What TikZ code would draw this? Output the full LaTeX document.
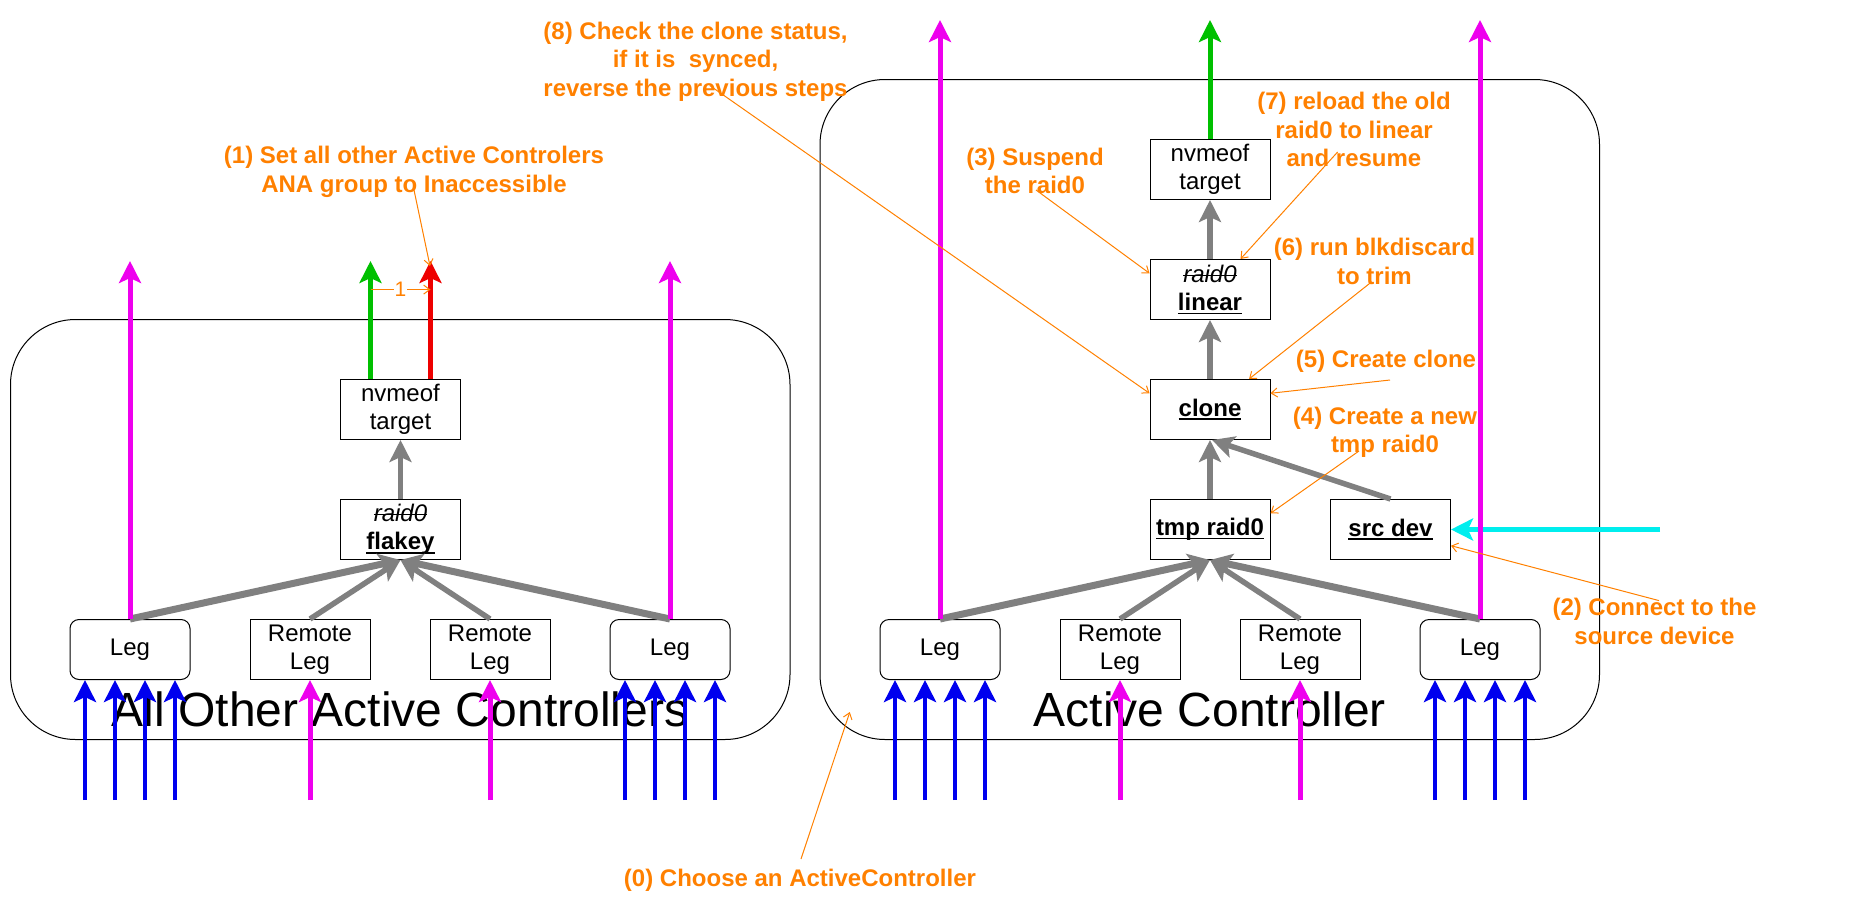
\documentclass[tikz,border=0pt]{standalone}
\usepackage{fontspec}
\setmainfont{Liberation Sans}
\usetikzlibrary{arrows.meta}
\newsavebox{\mylinebox}
\newcommand{\myul}[1]{\sbox{\mylinebox}{#1}\rlap{\rule[-3.6pt]{\wd\mylinebox}{1.6pt}}\usebox{\mylinebox}}
\newcommand{\myso}[1]{\sbox{\mylinebox}{#1}\rlap{\rule[6.2pt]{\wd\mylinebox}{1.4pt}}\usebox{\mylinebox}}
\definecolor{noteor}{HTML}{FF8000}
\definecolor{mgc}{HTML}{EE00EE}
\definecolor{blc}{HTML}{0000EE}
\definecolor{grc}{HTML}{00C000}
\definecolor{rdc}{HTML}{EE0000}
\definecolor{gyc}{HTML}{808080}
\definecolor{cyc}{HTML}{00EEEE}
\begin{document}
\begin{tikzpicture}[x=1pt,y=-1pt,
  box/.style={draw=black, fill=white, line width=1pt, minimum width=120pt, minimum height=60pt, inner sep=0pt, align=center, font=\fontsize{24}{28.5}\selectfont},
  legbox/.style={box, rounded corners=9pt},
  ctr/.style={draw=black, line width=1pt, rounded corners=65pt},
  big/.style={font=\fontsize{48}{56}\selectfont, anchor=base, inner sep=0pt},
  note/.style={text=noteor, font=\bfseries\fontsize{24}{28.5}\selectfont, align=center, inner sep=0pt},
  lead/.style={draw=noteor, line width=1pt, -{Straight Barb[length=6pt,width=9pt]}},
  tipA/.style={-{Stealth[length=22pt,width=22pt,inset=5pt]}},
  gr/.style={draw=gyc, line width=5.5pt, tipA, color=gyc},
  grT/.style={draw=gyc, line width=7pt, tipA, color=gyc},
  mg/.style={draw=mgc, line width=5pt, tipA, color=mgc},
  bl/.style={draw=blc, line width=4.5pt, tipA, color=blc},
  gn/.style={draw=grc, line width=5pt, tipA, color=grc},
  rd/.style={draw=rdc, line width=5pt, tipA, color=rdc},
  cy/.style={draw=cyc, line width=5pt, tipA, color=cyc}
]
\useasboundingbox (0,0) rectangle (1861,910);
% containers
\draw[ctr] (10.5,319.5) rectangle (790,739.5);
\draw[ctr] (820,79.5) rectangle (1599.5,739.5);
\node[big] (tl) at (400,726) {All Other Active Controllers};
\node[big] (tr) at (1210,726) {Active Controller};

% left nodes
\node[box] (nvl) at (400.5,409.5) {nvmeof\\target};
\node[box] (fl) at (400.5,529.5) {\myso{\itshape raid0}\\\myul{\bfseries flakey}};
\node[legbox] (la) at (130,649.5) {Leg};
\node[box] (rl1) at (310,649.5) {Remote\\Leg};
\node[box] (rl2) at (490,649.5) {Remote\\Leg};
\node[legbox] (lb) at (670,649.5) {Leg};

% right nodes
\node[box] (nvr) at (1210,169.5) {nvmeof\\target};
\node[box] (lin) at (1210,289.5) {\myso{\itshape raid0}\\\myul{\bfseries linear}};
\node[box] (cl) at (1210,409.5) {\myul{\bfseries clone}};
\node[box] (tmp) at (1210,529.5) {\myul{\bfseries tmp raid0}};
\node[box] (src) at (1390.5,529.5) {\myul{\bfseries src dev}};
\node[legbox] (ra) at (940,649.5) {Leg};
\node[box] (rr1) at (1120,649.5) {Remote\\Leg};
\node[box] (rr2) at (1300,649.5) {Remote\\Leg};
\node[legbox] (rb) at (1480,649.5) {Leg};

% gray arrows left
\draw[grT] (la.north) -- (fl.south);
\draw[gr] (rl1.north) -- (fl.south);
\draw[gr] (rl2.north) -- (fl.south);
\draw[grT] (lb.north) -- (fl.south);
\draw[gr] (fl.north) -- (nvl.south);
% gray arrows right
\draw[grT] (ra.north) -- (tmp.south);
\draw[gr] (rr1.north) -- (tmp.south);
\draw[gr] (rr2.north) -- (tmp.south);
\draw[grT] (rb.north) -- (tmp.south);
\draw[gr] (tmp.north) -- (cl.south);
\draw[gr] (src.north) -- ([xshift=2pt]cl.south);
\draw[gr] (cl.north) -- (lin.south);
\draw[gr] (lin.north) -- (nvr.south);

% cyan
\coordinate (cyS) at (1660,529.5);
\draw[cy] (cyS) -- (src.east);

% magenta / green / red outputs
\coordinate (maT) at (130,261);
\coordinate (mbT) at (670,261);
\coordinate (mcT) at (940,20);
\coordinate (mdT) at (1480,20);
\coordinate (gL) at (370.5,261);
\coordinate (rL) at (430.5,261);
\coordinate (gR) at (1210,20);
\draw[mg] (la.north) -- (maT);
\draw[mg] (lb.north) -- (mbT);
\draw[mg] (ra.north) -- (mcT);
\draw[mg] (rb.north) -- (mdT);
\draw[gn] ([xshift=-30pt]nvl.north) -- (gL);
\draw[rd] ([xshift=30pt]nvl.north) -- (rL);
\draw[gn] (nvr.north) -- (gR);

% inputs
\foreach \n in {la,lb,ra,rb}{
  \foreach \d in {-45,-15,15,45}{
    \draw[bl] ([xshift=\d pt, yshift=-120pt]\n.south) -- ([xshift=\d pt]\n.south);
  }
}
\foreach \n in {rl1,rl2,rr1,rr2}{
  \draw[mg] ([yshift=-120pt]\n.south) -- (\n.south);
}

% the "1" connector
\coordinate (g1) at (370.5,289.6);
\coordinate (r1) at (430.5,289.6);
\draw[lead] (g1) -- node[fill=white, inner sep=1pt, text=noteor, font=\fontsize{21}{21}\selectfont] (one) {1} (r1);

% annotations
\node[note] (n8) at (695.5,61.5) {(8) Check the clone status,\\if it is~ synced,\\reverse the previous steps};
\node[note] (n1) at (414,172) {(1) Set all other Active Controlers\\ANA group to Inaccessible};
\node[note] (n3) at (1035,171) {(3) Suspend\\the raid0};
\node[note] (n7) at (1354,129.5) {(7) reload the old\\raid0 to linear\\and resume};
\node[note] (n6) at (1374.5,261.5) {(6) run blkdiscard\\to trim};
\node[note] (n5) at (1386,361) {(5) Create clone};
\node[note] (n4) at (1385,432.5) {(4) Create a new\\tmp raid0};
\node[note] (n2) at (1654.5,621.5) {(2) Connect to the\\source device};
\node[note] (n0) at (800,880.5) {(0) Choose an ActiveController};

\coordinate (s8) at (709.7,85.5);
\coordinate (s1) at (414,190);
\coordinate (e1) at (430,266);
\coordinate (s3) at (1036,190);
\coordinate (s7) at (1337.6,152);
\coordinate (s6) at (1370.8,282.5);
\coordinate (s5) at (1390,380);
\coordinate (s4) at (1359,451);
\coordinate (s2) at (1659,600.6);
\coordinate (s0) at (801,859);
\coordinate (e0) at (849.8,712);

\draw[lead] (s8) -- (cl.165);
\draw[lead] (s1) -- (e1);
\draw[lead] (s3) -- (lin.165);
\draw[lead] (s7) -- (lin.45);
\draw[lead] (s6) -- (cl.38);
\draw[lead] (s5) -- (cl.15);
\draw[lead] (s4) -- (tmp.15);
\draw[lead] (s2) -- (src.-15);
\draw[lead] (s0) -- (e0);
\end{tikzpicture}
\end{document}
